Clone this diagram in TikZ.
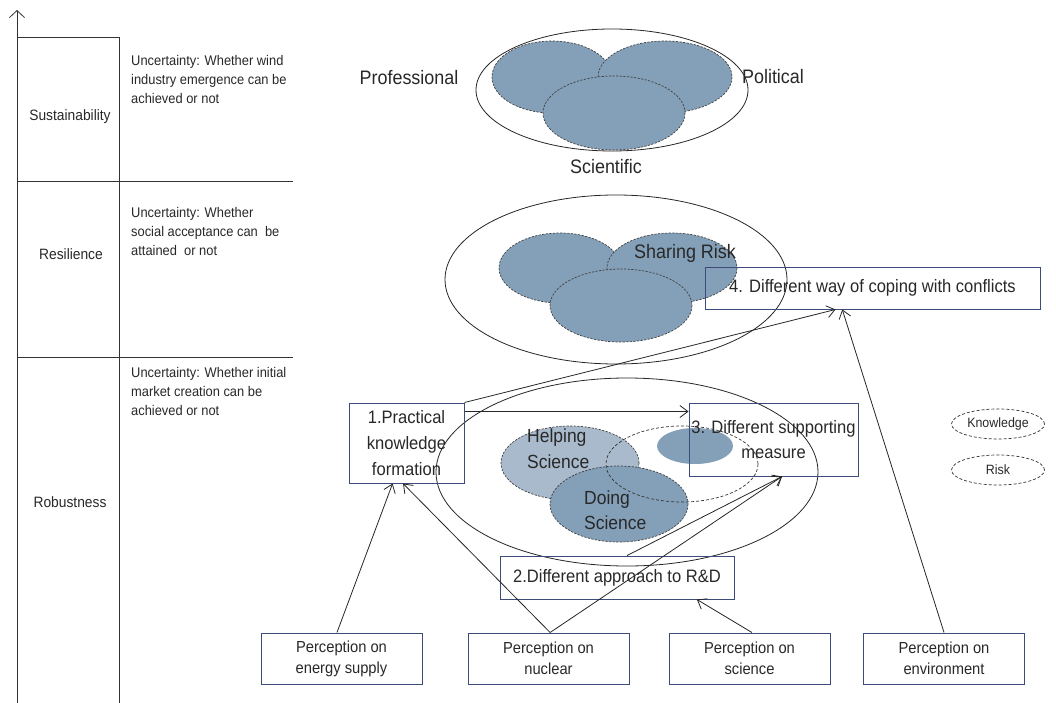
\documentclass[tikz,border=0pt]{standalone}
\usepackage{fontspec}
\setmainfont{Liberation Sans}[FakeStretch=0.92]
\usetikzlibrary{arrows.meta,shapes.geometric,calc}
\definecolor{ink}{RGB}{40,40,40}
\definecolor{boxline}{RGB}{60,75,120}
\definecolor{blobdark}{RGB}{132,160,184}
\definecolor{bloblight}{RGB}{169,186,204}
\newcommand\setfs[2]{\fontsize{#1}{#2}\selectfont}

\begin{document}
\begin{tikzpicture}[x=1pt,y=-1pt,
  every node/.style={text=ink, inner sep=0pt},
  frame/.style={draw=black!80, line width=0.8pt},
  thinline/.style={draw=black!85, line width=0.8pt},
  arr/.style={thinline, -{Straight Barb[length=8pt,width=12pt]}},
  blob/.style={fill=blobdark, draw=black!75, dash pattern=on 2.2pt off 1.4pt, line width=0.7pt},
  lightblob/.style={blob, fill=bloblight},
  dashring/.style={draw=black!80, dash pattern=on 3pt off 2pt, line width=0.7pt},
  box/.style={draw=boxline, line width=1pt, align=center},
  bigbox/.style={box, font=\setfs{18}{26}},
  percbox/.style={box, font=\setfs{16}{21}, minimum width=161pt, minimum height=51pt},
  uncert/.style={anchor=north west, align=left, font=\setfs{14}{19}},
  rowlabel/.style={font=\setfs{15}{18}},
  biglabel/.style={font=\setfs{19.5}{24}},
  legend/.style={ellipse, dashring, font=\setfs{13.5}{16}, minimum width=93pt, minimum height=30pt},
]
\useasboundingbox (0,0) rectangle (1056,703);

% ---- left frame: axis and the three rows ----
\coordinate (axbot) at (17,703);
\coordinate (axtop) at (17,10);
\draw[frame, -{Straight Barb[length=7pt,width=15pt]}] (axbot) -- (axtop);
\draw[frame] (17,37.5) -- (119,37.5);
\draw[frame] (17,181) -- (293,181);
\draw[frame] (17,357) -- (293,357);
\draw[frame] (119,37.5) -- (119,703);

\node[rowlabel] (sus) at (70,117) {Sustainability};
\node[rowlabel] (res) at (71,254) {Resilience};
\node[rowlabel] (rob) at (70,502) {Robustness};

\node[uncert] (u1) at (131,55) {Uncertainty: Whether wind\\industry emergence can be\\achieved or not};
\node[uncert] (u2) at (131,207) {Uncertainty: Whether\\social acceptance can \ be\\attained \ or not};
\node[uncert] (u3) at (131,367) {Uncertainty: Whether initial\\market creation can be\\achieved or not};

% ---- sustainability: three overlapping domains ----
\draw[thinline] (612,90) ellipse [x radius=136, y radius=61];
\draw[blob] (552,77) ellipse [x radius=60, y radius=36];
\draw[blob] (665,77) ellipse [x radius=67, y radius=36];
\draw[blob] (614,113) ellipse [x radius=71, y radius=37];
\node[biglabel] (prof) at (409,78) {Professional};
\node[biglabel] (pol) at (773,77) {Political};
\node[biglabel] (sci) at (606,167) {Scientific};

% ---- resilience: sharing risk ----
\draw[thinline] (616,279.5) ellipse [x radius=171, y radius=84.5];
\draw[blob] (560,268) ellipse [x radius=61, y radius=35];
\draw[blob] (672,268) ellipse [x radius=65, y radius=35];
\draw[blob] (621,305.5) ellipse [x radius=71, y radius=36.5];
\node[biglabel] (share) at (685,253) {Sharing Risk};
\node[bigbox, minimum width=335pt, minimum height=42pt] (b4) at (872.5,288)
  {4. Different way of coping with conflicts};

% ---- robustness: helping and doing science ----
\draw[thinline] (627,472) ellipse [x radius=191, y radius=94];
\draw[lightblob] (570,463) ellipse [x radius=69, y radius=37];
\draw[blob] (619,504) ellipse [x radius=69, y radius=38];
\draw[dashring] (682,464) ellipse [x radius=76, y radius=38];
\fill[blobdark] (695,446) ellipse [x radius=38, y radius=18];
\node[anchor=west, align=left, font=\setfs{19}{26}] (help) at (527,449) {Helping\\Science};
\node[anchor=west, align=left, font=\setfs{19}{25}] (doing) at (584,510) {Doing\\Science};

\node[bigbox, minimum width=115pt, minimum height=80pt] (b1) at (406.5,443)
  {1.Practical\\knowledge\\formation};
\node[bigbox, minimum width=169pt, minimum height=73pt, font=\setfs{18}{25}] (b3) at (773.5,439.5)
  {3. Different supporting\\measure};
\node[bigbox, minimum width=234pt, minimum height=43pt] (b2) at (617,577.5)
  {2.Different approach to R\&D};

% ---- perceptions ----
\node[percbox] (pe) at (341.5,658.5) {Perception on\\energy supply};
\node[percbox] (pn) at (548.5,658.5) {Perception on\\nuclear};
\node[percbox] (ps) at (749.5,658.5) {Perception on\\science};
\node[percbox] (pv) at (944,658.5) {Perception on\\environment};

% ---- legend ----
\node[legend] (lk) at (998,424) {Knowledge};
\node[legend] (lr) at (998,470) {Risk};

% ---- connectors ----
\coordinate (pe-out) at ($(pe.north west)!0.472!(pe.north east)$);
\coordinate (pn-out) at ($(pn.north west)!0.51!(pn.north east)$);
\coordinate (ps-out) at ($(ps.north west)!0.515!(ps.north east)$);
\coordinate (b1-ine) at ($(b1.south west)!0.38!(b1.south east)$);
\coordinate (b1-inn) at ($(b1.south west)!0.47!(b1.south east)$);
\coordinate (b3-in) at ($(b3.south west)!0.55!(b3.south east)$);
\coordinate (b2-in) at ($(b2.south west)!0.84!(b2.south east)$);
\coordinate (b2-out) at ($(b2.north west)!0.543!(b2.north east)$);
\coordinate (b4-in1) at ($(b4.south west)!0.39!(b4.south east)$);
\coordinate (b4-in2) at ($(b4.south west)!0.41!(b4.south east)$);
\coordinate (b1-h) at ($(b1.north east)+(0,9)$);

\draw[arr] (pe-out) -- (b1-ine);
\draw[arr] (pn-out) -- (b1-inn);
\draw[arr] (pn-out) -- (b3-in);
\draw[arr] (b2-out) -- (b3-in);
\draw[arr] (ps-out) -- (b2-in);
\draw[arr] (pv.north) -- (b4-in2);
\draw[arr] (b1.north east) -- (b4-in1);
\draw[arr] (b1-h) -- (b1-h -| b3.west);
\end{tikzpicture}
\end{document}
